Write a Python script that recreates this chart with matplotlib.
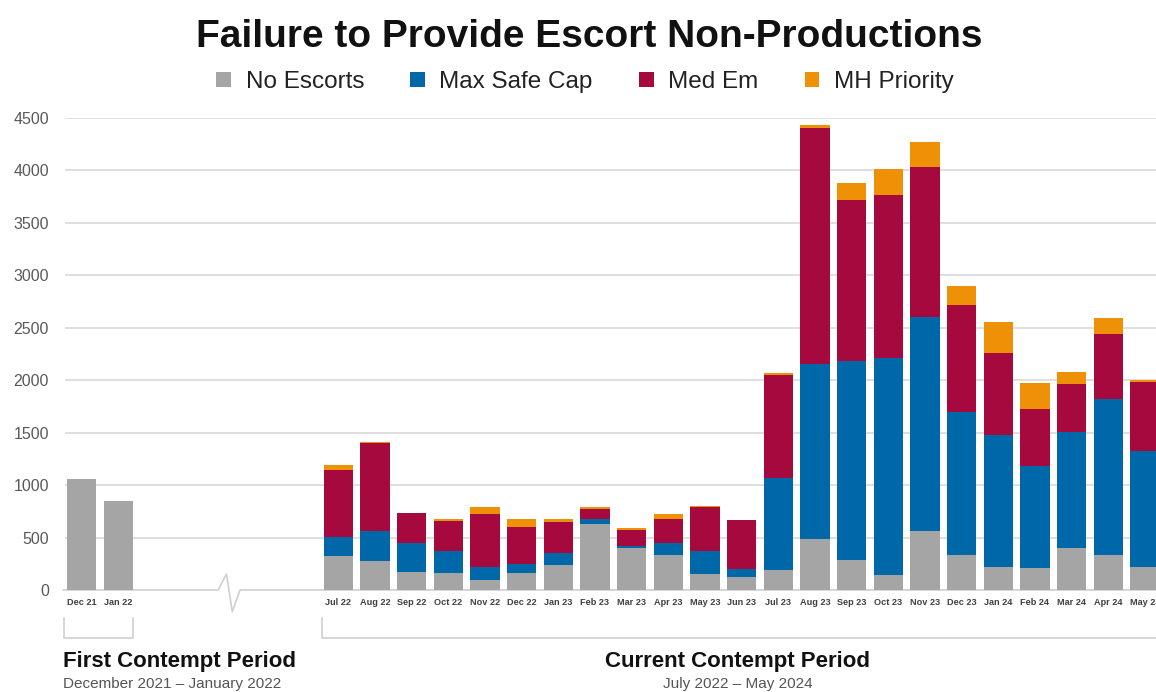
import matplotlib.pyplot as plt
import numpy as np

plt.rcParams['font.family'] = ['Liberation Sans', 'DejaVu Sans']

months = ['Dec 21', 'Jan 22',
          'Jul 22', 'Aug 22', 'Sep 22', 'Oct 22', 'Nov 22', 'Dec 22', 'Jan 23', 'Feb 23',
          'Mar 23', 'Apr 23', 'May 23', 'Jun 23', 'Jul 23', 'Aug 23', 'Sep 23', 'Oct 23',
          'Nov 23', 'Dec 23', 'Jan 24', 'Feb 24', 'Mar 24', 'Apr 24', 'May 24']
no_escorts = [1060, 845,
              320, 280, 175, 160, 100, 160, 235, 625, 405, 335, 150, 125,
              195, 490, 285, 145, 560, 330, 215, 210, 405, 330, 220]
max_safe_cap = [0, 0,
                190, 285, 275, 215, 120, 90, 115, 50, 15, 115, 225, 75,
                875, 1665, 1895, 2065, 2045, 1365, 1260, 975, 1100, 1495, 1105]
med_em = [0, 0,
          635, 840, 285, 285, 505, 355, 300, 100, 155, 225, 415, 465,
          975, 2245, 1540, 1555, 1430, 1025, 780, 545, 460, 620, 655]
mh_priority = [0, 0,
               45, 5, 0, 20, 65, 75, 30, 12, 12, 45, 15, 0,
               20, 35, 160, 250, 235, 175, 300, 245, 110, 145, 25]

series = [('No Escorts', no_escorts, '#a5a5a5'),
          ('Max Safe Cap', max_safe_cap, '#0068a8'),
          ('Med Em', med_em, '#a6093d'),
          ('MH Priority', mh_priority, '#ef9107')]

# first period at slots 0-1, gap, current period from slot 7
x = np.array(list(range(2)) + list(range(7, 7 + len(months) - 2)))

fig = plt.figure(figsize=(11.56, 6.92), dpi=100)
ax = fig.add_axes([0.056, 0.1474, 0.944, 0.6821])

bottom = np.zeros(len(months))
for name, vals, col in series:
    ax.bar(x, vals, width=0.8, bottom=bottom, color=col, label=name, zorder=3)
    bottom += np.array(vals)

ax.set_xlim(-0.46, 29.3)
ax.set_ylim(0, 4500)
ax.set_yticks(range(0, 4501, 500))
ax.set_xticks(x)
ax.set_xticklabels(months, fontsize=6.6, fontweight='bold', color='#404040')
ax.tick_params(axis='y', length=0, labelsize=11.5, labelcolor='#595959', pad=11.5)
ax.tick_params(axis='x', length=0, pad=6)
for s in ax.spines.values():
    s.set_visible(False)
for v in range(500, 4501, 500):
    ax.axhline(v, color='#d9d9d9', lw=1.2, zorder=1)

# baseline with break mark
grey = '#d0d0d0'
ax.plot([-0.5, 3.72, 3.95, 4.11, 4.32, 29.5], [0, 0, 152, -207, 0, 0],
        color=grey, lw=1.2, clip_on=False, zorder=2)

# period brackets
ax.plot([-0.48, -0.48, 1.40, 1.40], [-267, -458, -458, -267],
        color=grey, lw=1.2, clip_on=False)
ax.plot([6.56, 6.56, 29.5], [-267, -458, -458], color=grey, lw=1.2, clip_on=False)

fig.text(0.510, 0.947, 'Failure to Provide Escort Non-Productions', ha='center', va='center',
         fontsize=28, fontweight='bold', color='#111111')
ax.legend(loc='center', bbox_to_anchor=(0.506, 0.8815), bbox_transform=fig.transFigure,
          ncol=4, frameon=False, fontsize=17.5, handlelength=0.6, handleheight=0.6,
          handletextpad=0.6, columnspacing=1.9, labelcolor='#222222')

fig.text(0.0545, 0.044, 'First Contempt Period', ha='left', va='center',
         fontsize=16, fontweight='bold', color='#111111')
fig.text(0.0545, 0.012, 'December 2021 \u2013 January 2022', ha='left', va='center',
         fontsize=11, color='#555555')
fig.text(0.638, 0.044, 'Current Contempt Period', ha='center', va='center',
         fontsize=16, fontweight='bold', color='#111111')
fig.text(0.638, 0.012, 'July 2022 \u2013 May 2024', ha='center', va='center',
         fontsize=11, color='#555555')

fig.savefig('out.png', dpi=100)
